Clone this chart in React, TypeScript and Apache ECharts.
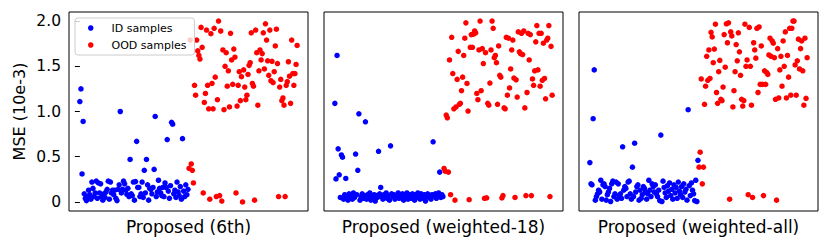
import React, { useEffect, useRef } from "react";
import * as echarts from "echarts";

const panelTitles = ["Proposed (6th)", "Proposed (weighted-18)", "Proposed (weighted-all)"];
const yTicks = [0, 0.5, 1.0, 1.5, 2.0];

const idPanel1 = [
  1.11, 1.25, 0.31, 0.89, 0.09, 0.04, 0.015, 0.06, 0.13, 0.08,
  0.03, 0.22, 0.15, 0.06, 0.10, 0.23, 0.04, 0.21, 0.10, 0.20,
  0.06, 0.02, 0.09, 0.05, 0.11, 0.14, 0.23, 0.03, 0.22, 0.10,
  0.13, 0.08, 0.13, 0.04, 0.015, 0.14, 0.19, 1.0, 0.10, 0.14,
  0.23, 0.20, 0.13, 0.085, 0.15, 0.06, 0.47, 0.09, 0.07, 0.22,
  0.02, 0.225, 0.67, 0.16, 0.16, 0.06, 0.09, 0.22, 0.05, 0.35,
  0.10, 0.47, 0.19, 0.02, 0.15, 0.14, 0.09, 0.16, 0.36, 0.945,
  0.06, 0.11, 0.24, 0.15, 0.10, 0.07, 0.16, 0.06, 0.21, 0.16,
  0.69, 0.12, 0.04, 0.18, 0.88, 0.86, 0.09, 0.13, 0.05, 0.22,
  0.11, 0.07, 0.17, 0.03, 0.70, 0.12, 0.06, 0.19, 0.08, 0.14,
];
const oodPanel1 = [
  0.37, 1.79, 0.42, 0.35, 0.21, 1.29, 1.18, 1.79, 1.67, 1.62,
  1.58, 1.93, 1.71, 0.10, 1.10, 1.20, 1.90, 1.29, 1.03, 0.03,
  1.86, 1.31, 1.03, 1.92, 1.38, 0.06, 1.13, 2.0, 0.07, 1.89,
  0.01, 1.68, 1.02, 1.50, 1.65, 1.28, 1.45, 1.05, 1.865, 1.57,
  1.30, 1.69, 1.60, 0.10, 1.06, 1.29, 1.44, 1.12, 1.385, 0.0,
  1.46, 1.27, 1.13, 1.18, 1.41, 1.51, 1.54, 1.87, 1.31, 1.28,
  0.02, 1.90, 1.65, 1.07, 1.45, 1.68, 1.57, 1.64, 1.87, 1.47,
  1.97, 1.79, 1.56, 1.40, 1.90, 1.34, 1.555, 1.32, 1.44, 1.725,
  1.91, 1.53, 0.06, 1.27, 1.355, 1.12, 1.15, 1.07, 0.06, 1.29,
  1.33, 1.55, 1.39, 1.09, 1.79, 1.42, 1.29, 1.42, 1.52, 1.73,
];

const idPanel2 = [
  1.09, 0.255, 1.62, 0.587, 0.30, 0.05, 0.52, 0.495, 0.03, 0.08,
  0.26, 0.06, 0.02, 0.09, 0.04, 0.07, 0.03, 0.10, 0.05, 0.53,
  0.08, 0.35, 0.975, 0.02, 0.06, 0.09, 0.04, 0.07, 0.886, 0.03,
  0.08, 0.05, 0.10, 0.02, 0.06, 0.04, 0.08, 0.01, 0.07, 0.05,
  0.56, 0.09, 0.16, 0.06, 0.03, 0.08, 0.05, 0.10, 0.04, 0.07,
  0.02, 0.62, 0.09, 0.06, 0.08, 0.03, 0.07, 0.05, 0.10, 0.04,
  0.08, 0.06, 0.09, 0.02, 0.07, 0.05, 0.10, 0.03, 0.08, 0.06,
  0.04, 0.09, 0.07, 0.02, 0.08, 0.05, 0.10, 0.06, 0.03, 0.09,
  0.07, 0.04, 0.08, 0.01, 0.06, 0.09, 0.05, 0.07, 0.03, 0.08,
  0.665, 0.06, 0.09, 0.04, 0.07, 0.10, 0.33, 0.05, 0.08, 0.06,
];
const oodPanel2 = [
  0.37, 0.34, 0.96, 0.93, 0.33, 1.57, 0.08, 1.82, 1.42, 1.03,
  0.02, 1.05, 1.355, 1.665, 1.08, 1.09, 1.23, 1.38, 1.62, 1.81,
  1.98, 1.31, 1.005, 0.025, 1.71, 1.85, 1.71, 1.855, 1.89, 1.87,
  1.20, 1.13, 1.68, 2.0, 1.23, 1.695, 1.53, 0.04, 1.65, 0.045,
  1.09, 1.07, 1.315, 1.68, 2.0, 1.92, 1.595, 1.62, 1.54, 1.08,
  1.725, 1.40, 1.38, 0.045, 0.07, 1.04, 1.03, 1.82, 1.18, 1.81,
  1.26, 1.47, 1.68, 1.79, 1.37, 0.05, 1.35, 1.16, 1.88, 1.66,
  1.64, 1.865, 1.63, 1.89, 1.04, 0.07, 1.21, 1.865, 1.57, 1.85,
  0.07, 1.36, 1.29, 1.45, 1.77, 1.95, 1.46, 1.865, 1.28, 1.865,
  1.345, 1.755, 1.365, 1.14, 1.79, 1.81, 1.95, 0.06, 1.72, 1.18,
];

const idPanel3 = [
  0.435, 0.20, 0.19, 0.92, 1.46, 0.02, 0.06, 0.09, 0.13, 0.11,
  0.24, 0.03, 0.19, 0.20, 0.17, 0.02, 0.08, 0.11, 0.15, 0.005,
  0.20, 0.23, 0.06, 0.09, 0.22, 0.03, 0.20, 0.07, 0.09, 0.04,
  0.61, 0.13, 0.17, 0.15, 0.06, 0.22, 0.23, 0.09, 0.03, 0.385,
  0.06, 0.65, 0.11, 0.17, 0.19, 0.02, 0.13, 0.04, 0.08, 0.17,
  0.15, 0.11, 0.03, 0.09, 0.24, 0.13, 0.06, 0.20, 0.17, 0.11,
  0.19, 0.09, 0.06, 0.13, 0.015, 0.74, 0.005, 0.23, 0.16, 0.10,
  0.05, 0.18, 0.12, 0.21, 0.07, 0.14, 0.03, 0.19, 0.10, 0.16,
  0.04, 0.22, 0.12, 0.08, 0.17, 0.05, 0.20, 0.11, 0.14, 0.02,
  1.02, 0.18, 0.07, 0.21, 0.13, 0.09, 0.015, 0.24, 0.005, 0.46,
];
const oodPanel3 = [
  0.385, 0.55, 1.36, 0.20, 0.385, 1.08, 1.28, 1.61, 1.345, 1.68,
  1.365, 1.875, 1.825, 1.54, 1.69, 1.965, 1.21, 1.09, 1.44, 1.565,
  1.135, 1.12, 1.27, 1.85, 1.49, 1.97, 1.76, 1.98, 0.03, 1.88,
  1.835, 1.05, 1.23, 1.44, 1.74, 1.56, 1.87, 1.66, 1.40, 1.135,
  1.06, 1.12, 1.965, 1.50, 1.57, 0.08, 1.93, 1.50, 1.07, 0.05,
  1.76, 1.68, 1.59, 1.92, 1.21, 1.935, 1.30, 1.725, 1.30, 0.07,
  1.45, 1.30, 1.43, 1.41, 1.625, 1.81, 1.61, 1.78, 1.755, 1.595,
  1.135, 0.02, 1.695, 1.15, 1.46, 1.61, 1.28, 1.78, 1.50, 1.88,
  1.15, 1.62, 1.38, 1.92, 1.18, 1.92, 2.0, 2.0, 1.515, 1.18,
  1.56, 1.80, 1.47, 1.695, 1.78, 1.45, 1.07, 1.81, 1.145, 1.595,
];

const idSets = [idPanel1, idPanel2, idPanel3];
const oodSets = [oodPanel1, oodPanel2, oodPanel3];

const FONT = "DejaVu Sans";

export default function App() {
  const ref = useRef<HTMLDivElement>(null);
  useEffect(() => {
    if (!ref.current) return;
    const chart = echarts.init(ref.current, undefined, { renderer: "svg" });
    const grids: any[] = [];
    const xAxes: any[] = [];
    const yAxes: any[] = [];
    const series: any[] = [];
    for (let i = 0; i < 3; i++) {
      const nId = idSets[i].length;
      const nAll = nId + oodSets[i].length;
      const span = nAll - 1;
      grids.push({
        left: 69 + i * 255,
        top: 12,
        width: 239,
        height: 199,
        show: true,
        borderColor: "#000",
        borderWidth: 1,
        backgroundColor: "#fff",
      });
      xAxes.push({
        type: "value",
        gridIndex: i,
        min: -0.05 * span,
        max: span * 1.05,
        axisLine: { show: false },
        axisTick: { show: false },
        axisLabel: { show: false },
        splitLine: { show: false },
        name: panelTitles[i],
        nameLocation: "middle",
        nameGap: 7,
        nameTextStyle: { fontFamily: FONT, fontSize: 17, color: "#000", verticalAlign: "top" },
      });
      yAxes.push({
        type: "value",
        gridIndex: i,
        min: -0.1,
        max: 2.1,
        splitLine: { show: false },
        axisLine: { show: false },
        axisTick: {
          show: i === 0,
          length: 5,
          customValues: yTicks,
          lineStyle: { color: "#000", width: 1 },
        },
        axisLabel: {
          show: i === 0,
          customValues: yTicks,
          margin: 8,
          fontFamily: FONT,
          fontSize: 15.5,
          color: "#000",
          formatter: (v: number) => (v === 0 ? "0" : v.toFixed(1)),
        },
        name: i === 0 ? "MSE (10e-3)" : "",
        nameLocation: "middle",
        nameGap: 42,
        nameTextStyle: { fontFamily: FONT, fontSize: 16, color: "#000" },
      });
      series.push({
        type: "scatter",
        name: "ID samples",
        xAxisIndex: i,
        yAxisIndex: i,
        symbol: "circle",
        symbolSize: 5.5,
        itemStyle: { color: "#0000ff", opacity: 1 },
        data: idSets[i].map((v, k) => [k, v]),
      });
      series.push({
        type: "scatter",
        name: "OOD samples",
        xAxisIndex: i,
        yAxisIndex: i,
        symbol: "circle",
        symbolSize: 5.5,
        itemStyle: { color: "#ff0000", opacity: 1 },
        data: oodSets[i].map((v, k) => [k + nId, v]),
      });
    }
    chart.setOption({
      animation: false,
      backgroundColor: "#fff",
      grid: grids,
      xAxis: xAxes,
      yAxis: yAxes,
      series,
      legend: {
        data: ["ID samples", "OOD samples"],
        left: 75,
        top: 18,
        orient: "vertical",
        icon: "circle",
        itemWidth: 5.5,
        itemHeight: 5.5,
        itemGap: 5,
        padding: [4, 8, 4, 13],
        backgroundColor: "rgba(255,255,255,0.8)",
        borderColor: "#cccccc",
        borderWidth: 1,
        borderRadius: 3,
        selectedMode: false,
        textStyle: {
          fontFamily: FONT,
          fontSize: 11,
          color: "#000",
          lineHeight: 12,
          padding: [0, 0, 0, 13],
        },
      },
    });
    return () => chart.dispose();
  }, []);
  return (
    <div
      ref={ref}
      style={{ position: "fixed", left: 0, top: 0, width: 830, height: 249, background: "#fff" }}
    />
  );
}
